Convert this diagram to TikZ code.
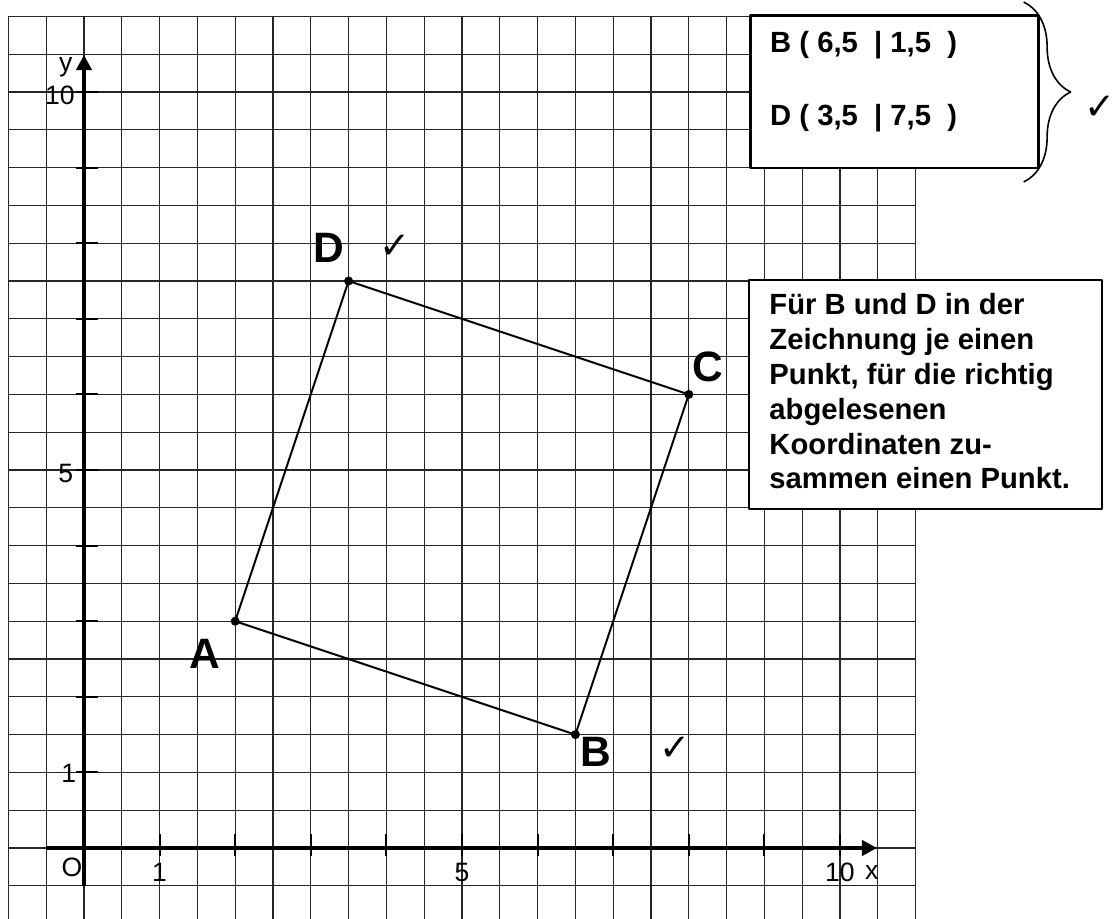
\documentclass[tikz,border=0pt]{standalone}
\usepackage{fontspec}
\setmainfont{Liberation Sans}
\newfontfamily\checkfont{DejaVu Sans}
\usetikzlibrary{arrows.meta,decorations.pathreplacing}

\begin{document}
\begin{tikzpicture}[x=1cm,y=1cm,line join=round,
  gridline/.style={draw=black!85,line width=.5pt},
  axis/.style={draw=black,line width=1.5pt,-{Triangle[length=.2cm,width=.2cm]}},
  tickmark/.style={draw=black,line width=.8pt},
  side/.style={draw=black,line width=.75pt},
  num/.style={font=\fontsize{10}{11}\selectfont,inner sep=0pt},
  ptlabel/.style={font=\fontsize{16}{18}\selectfont\bfseries,inner sep=0pt},
  okmark/.style={font=\checkfont\fontsize{14}{16}\selectfont,inner sep=0pt},
  infobox/.style={draw=black,line width=.9pt,fill=white,anchor=north west,inner sep=0pt},
  infotext/.style={font=\fontsize{11}{13.1}\selectfont\bfseries,align=left,inner sep=0pt}]
\useasboundingbox (-1.111,-0.939) rectangle (13.598,11.217);

% Grid paper.
\draw[gridline,step=.5] (-1,-0.95) grid (11,11);

% Axes with ticks.
\draw[axis] (-.5,0)--(10.49,0);
\draw[axis] (0,-.5)--(0,10.49);
\foreach \i in {1,...,10}{
  \draw[tickmark] (\i,-.1)--(\i,.19);
  \draw[tickmark] (-.1,\i)--(.19,\i);
}
\node[num] (orig) at (-.16,-.25) {O};
\node[num] (xone) at (1,-.32) {1};
\node[num] (xfive) at (5,-.32) {5};
\node[num] (xten) at (10,-.32) {10};
\node[num] (xname) at (10.42,-.32) {x};
\node[num] (yone) at (-.2,.99) {1};
\node[num] (yfive) at (-.24,4.95) {5};
\node[num] (yten) at (-.32,9.96) {10};
\node[num] (yname) at (-.24,10.33) {y};

% Square ABCD.
\coordinate (A) at (2,3);
\coordinate (B) at (6.5,1.5);
\coordinate (C) at (8,6);
\coordinate (D) at (3.5,7.5);
\draw[side] (A)--(B)--(C)--(D)--cycle;
\foreach \p in {A,B,C,D}
  \fill (\p) circle (.06);
\node[ptlabel] (labA) at (1.60,2.57) {A};
\node[ptlabel] (labB) at (6.77,1.27) {B};
\node[ptlabel] (labC) at (8.25,6.36) {C};
\node[ptlabel] (labD) at (3.24,7.94) {D};
\node[okmark] (okD) at (4.11,7.95) {✓};
\node[okmark] (okB) at (7.82,1.31) {✓};

% Read-off coordinates.
\node[infobox,minimum width=3.81cm,minimum height=2.02cm] (coordbox) at (8.80,11.03) {};
\node[infotext,anchor=base west] (Bval) at (9.07,10.52) {B ( 6,5\ \ | 1,5\ \ )};
\node[infotext,anchor=base west] (Dval) at (9.07,9.56) {D ( 3,5\ \ | 7,5\ \ )};
\draw[line width=.6pt,decorate,decoration={brace,amplitude=.62cm}]
  (12.43,11.19)--(12.43,8.81);
\node[okmark] (okR) at (13.44,9.79) {✓};

% Scoring note.
\node[infobox,minimum width=4.67cm,minimum height=3.03cm] (notebox) at (8.78,7.53) {};
\node[infotext,anchor=north west] (note) at (9.06,7.34)
  {Für B und D in der\\Zeichnung je einen\\Punkt, für die richtig\\abgelesenen\\Koordinaten zu-\\sammen einen Punkt.};
\end{tikzpicture}
\end{document}
